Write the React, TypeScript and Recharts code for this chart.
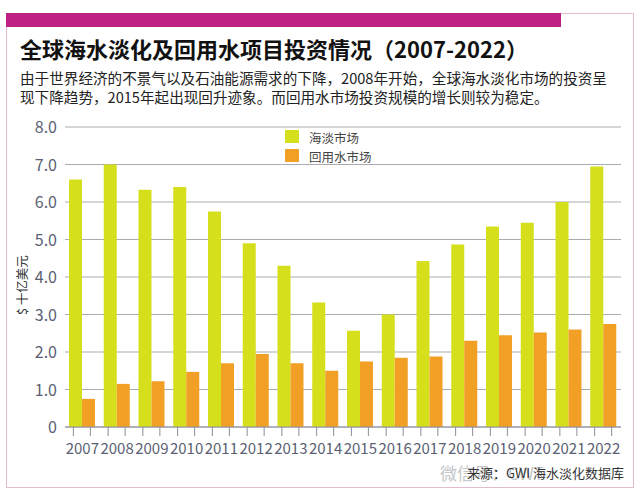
import { BarChart, Bar, XAxis, YAxis, CartesianGrid } from "recharts"

const years = ["2007", "2008", "2009", "2010", "2011", "2012", "2013", "2014", "2015", "2016", "2017", "2018", "2019", "2020", "2021", "2022"]
const desalination = [6.6, 7.0, 6.33, 6.4, 5.75, 4.9, 4.3, 3.32, 2.57, 3.0, 4.43, 4.87, 5.35, 5.45, 6.0, 6.95]
const reuse = [0.75, 1.15, 1.22, 1.47, 1.7, 1.95, 1.7, 1.5, 1.75, 1.85, 1.88, 2.3, 2.45, 2.52, 2.6, 2.75]
const yTicks = [0, 1, 2, 3, 4, 5, 6, 7, 8]

const chartData = years.map((year, i) => ({
  year,
  desalination: desalination[i],
  reuse: reuse[i],
}))

const sans = '"Noto Sans CJK SC", "Noto Sans", sans-serif'
const narrow = '"Liberation Sans Narrow", "Noto Sans CJK SC", sans-serif'
const tickColor = "#5a5f73"

function YearTick({ x, y, payload }: any) {
  return (
    <g>
      <line x1={x - 9} x2={x - 9} y1={y - 8} y2={y + 1} stroke="#8a8f9c" />
      <line x1={x + 8} x2={x + 8} y1={y - 8} y2={y + 1} stroke="#8a8f9c" />
      <text x={x} y={y + 19} textAnchor="middle" fontSize={15} fontFamily={narrow} fill={tickColor}>
        {payload.value}
      </text>
    </g>
  )
}

function YValueTick({ x, y, payload }: any) {
  return (
    <text x={x} y={y + 6} textAnchor="end" fontSize={16} fontFamily={narrow} fill={tickColor}>
      {payload.value === 0 ? "0" : payload.value.toFixed(1)}
    </text>
  )
}

function Abs({ left, top, style, children }: any) {
  return <div style={{ position: "absolute", left, top, whiteSpace: "nowrap", fontFamily: sans, ...style }}>{children}</div>
}

export default function App() {
  return (
    <div style={{ position: "absolute", left: 0, top: 0, width: 640, height: 500, background: "#fff", overflow: "hidden" }}>
      <div style={{ position: "absolute", left: 6, top: 13, width: 626, height: 473, border: "1px solid #e3bcd2" }} />
      <div style={{ position: "absolute", left: 6, top: 13, width: 555, height: 14, background: "#bc2183" }} />

      <Abs left={20} top={32} style={{ fontSize: 22, lineHeight: "32px", fontWeight: 700, color: "#111" }}>
        全球海水淡化及回用水项目投资情况（2007-2022）
      </Abs>
      <Abs left={20} top={68} style={{ fontSize: 14.6, lineHeight: "20px", color: "#222" }}>
        由于世界经济的不景气以及石油能源需求的下降，2008年开始，全球海水淡化市场的投资呈
      </Abs>
      <Abs left={20} top={87} style={{ fontSize: 14.6, lineHeight: "20px", color: "#222" }}>
        现下降趋势，2015年起出现回升迹象。而回用水市场投资规模的增长则较为稳定。
      </Abs>

      <div style={{ position: "absolute", left: 0, top: 0 }}>
        <BarChart
          width={640}
          height={500}
          data={chartData}
          barGap={0}
          barCategoryGap={4}
          margin={{ top: 127, right: 19, left: 64, bottom: 72 }}
        >
          <CartesianGrid vertical={false} stroke="#a9abb3" strokeWidth={1.2} />
          <XAxis
            dataKey="year"
            interval={0}
            axisLine={{ stroke: "#8a8f9c" }}
            tickLine={false}
            tick={<YearTick />}
            height={1}
          />
          <YAxis
            width={1}
            domain={[0, 8]}
            ticks={yTicks}
            axisLine={false}
            tickLine={false}
            tick={<YValueTick />}
          />
          <Bar dataKey="desalination" fill="#d6df1c" isAnimationActive={false} />
          <Bar dataKey="reuse" fill="#f29f26" isAnimationActive={false} />
        </BarChart>
      </div>

      <div style={{ position: "absolute", left: 285, top: 130, width: 14, height: 13, background: "#d6df1c" }} />
      <div style={{ position: "absolute", left: 285, top: 149, width: 14, height: 13, background: "#f29f26" }} />
      <Abs left={309} top={129} style={{ fontSize: 12.5, lineHeight: "17px", color: "#444" }}>海淡市场</Abs>
      <Abs left={309} top={148} style={{ fontSize: 12.5, lineHeight: "17px", color: "#444" }}>回用水市场</Abs>

      <Abs left={14} top={277} style={{ fontSize: 12.5, lineHeight: "16px", color: "#333", transform: "rotate(-90deg)", transformOrigin: "center", width: 60, marginLeft: -22, textAlign: "center" }}>
        $ 十亿美元
      </Abs>

      <Abs left={440} top={463} style={{ fontSize: 17, lineHeight: "20px", color: "#c4c6c8" }}>微信号：CWT</Abs>
      <Abs left={467} top={463} style={{ fontSize: 13, lineHeight: "20px", color: "#333" }}>来源：GWI 海水淡化数据库</Abs>
    </div>
  )
}
